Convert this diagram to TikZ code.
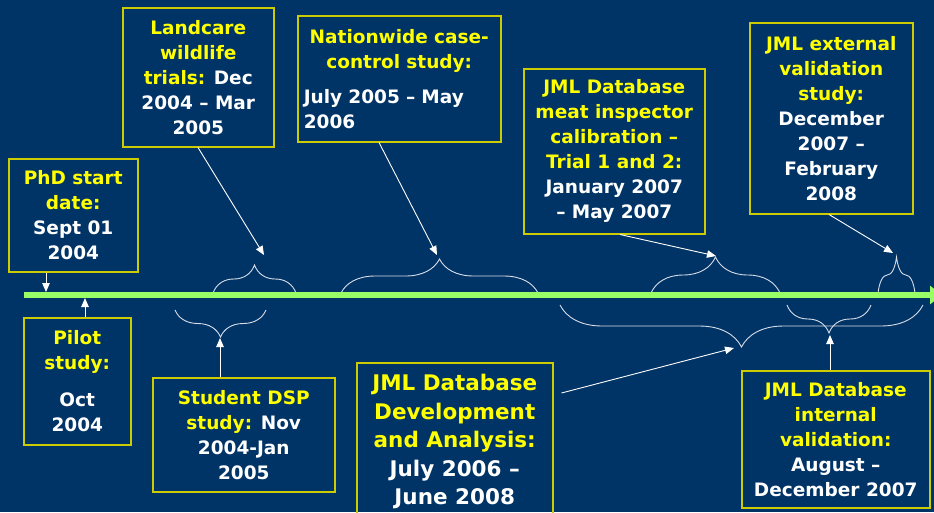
\documentclass[tikz,border=0pt]{standalone}
\usepackage{fontspec}
\setmainfont{DejaVu Sans}
\usetikzlibrary{arrows.meta,decorations.pathreplacing,calc}
\definecolor{bg}{HTML}{003366}
\definecolor{yel}{HTML}{FFFF00}
\definecolor{bord}{HTML}{CCCC00}
\definecolor{grn}{HTML}{99FF66}
\definecolor{brcol}{HTML}{D8DEE8}
\newcommand\yl[1]{\textcolor{yel}{#1}}
\begin{document}
\begin{tikzpicture}[x=1pt,y=-1pt,
  box/.style={draw=bord, line width=1.5pt, anchor=north west, inner sep=3pt, align=center,
    text=white, font=\bfseries\fontsize{18.5}{25}\selectfont},
  bigbox/.style={box, font=\bfseries\fontsize{21.5}{28.5}\selectfont},
  bracestyle/.style={draw=brcol, line width=0.9pt, decorate, decoration={brace, amplitude=#1}},
  arr/.style={draw=white, line width=0.9pt, -{Triangle[length=9pt,width=7.5pt]}},
  timeline/.style={draw=grn, line width=6pt, -{Triangle[length=12pt,width=18pt]}}
]
\useasboundingbox (0,0) rectangle (934,512);
\fill[bg] (0,0) rectangle (934,512);

% braces
\draw[bracestyle=28] (213,293) -- (296,293);
\draw[bracestyle=27] (266,310) -- (175,310);
\draw[bracestyle=34] (341,293) -- (538,293);
\draw[bracestyle=36] (651,293) -- (780,293);
\draw[bracestyle=36] (878,293) -- (915,293);
\draw[bracestyle=42] (923,305) -- (560,305);
\draw[bracestyle=28] (871,305) -- (787,305);

% timeline
\coordinate (tl0) at (24,295);
\coordinate (tl1) at (942,295);
\draw[timeline] (tl0) -- (tl1);

% boxes
\node[box, minimum width=129, minimum height=113] (phd) at (8,158)
  {\yl{PhD start}\\\yl{date:}\\Sept 01\\2004};
\node[box, minimum width=151, minimum height=139] (land) at (122,7)
  {\yl{Landcare}\\\yl{wildlife}\\\yl{trials:} Dec\\2004 – Mar\\2005};
\node[box, text width=191, inner xsep=6pt, minimum height=126, align=left] (nat) at (297,15)
  {{\centering\yl{Nationwide case-}\\\yl{control study:}\par}\vspace{10pt}July 2005 – May\\2006};
\node[box, minimum width=181, minimum height=165] (meat) at (523,68)
  {\yl{JML Database}\\\yl{meat inspector}\\\yl{calibration –}\\\yl{Trial 1 and 2:}\\January 2007\\– May 2007};
\node[box, minimum width=163, minimum height=191] (ext) at (749,22)
  {\yl{JML external}\\\yl{validation}\\\yl{study:}\\December\\2007 –\\February\\2008};
\node[box, minimum width=107, minimum height=127] (pilot) at (23,317)
  {\yl{Pilot}\\\yl{study:}\\[12pt]Oct\\2004};
\node[box, minimum width=182, minimum height=114] (stud) at (152,377)
  {\yl{Student DSP}\\\yl{study:} Nov\\2004-Jan\\2005};
\node[bigbox, minimum width=196, minimum height=158] (dev) at (356,362)
  {\yl{JML Database}\\\yl{Development}\\\yl{and Analysis:}\\July 2006 –\\June 2008};
\node[box, minimum width=188, minimum height=137] (int) at (741,370)
  {\yl{JML Database}\\\yl{internal}\\\yl{validation:}\\August –\\December 2007};

% arrow targets
\coordinate (e1) at (46,292);
\coordinate (e2) at (85,298);
\coordinate (e3) at (264,255);
\coordinate (e4) at (220,338);
\coordinate (e5) at (437,255);
\coordinate (e6) at (716,256);
\coordinate (e7) at (893,253);
\coordinate (e8) at (734,348);
\coordinate (e9) at (830,335);

% arrows
\draw[arr] ($(phd.south west)+(38,0)$) -- (e1);
\draw[arr] ($(pilot.north west)+(62,0)$) -- (e2);
\draw[arr] ($(land.south west)+(76,0)$) -- (e3);
\draw[arr] ($(stud.north west)+(68,0)$) -- (e4);
\draw[arr] ($(nat.south west)+(82,0)$) -- (e5);
\draw[arr] ($(meat.south west)+(97,0)$) -- (e6);
\draw[arr] ($(ext.south west)+(80,0)$) -- (e7);
\draw[arr] ($(dev.north east)+(8,31)$) -- (e8);
\draw[arr] ($(int.north west)+(89,0)$) -- (e9);
\end{tikzpicture}
\end{document}
